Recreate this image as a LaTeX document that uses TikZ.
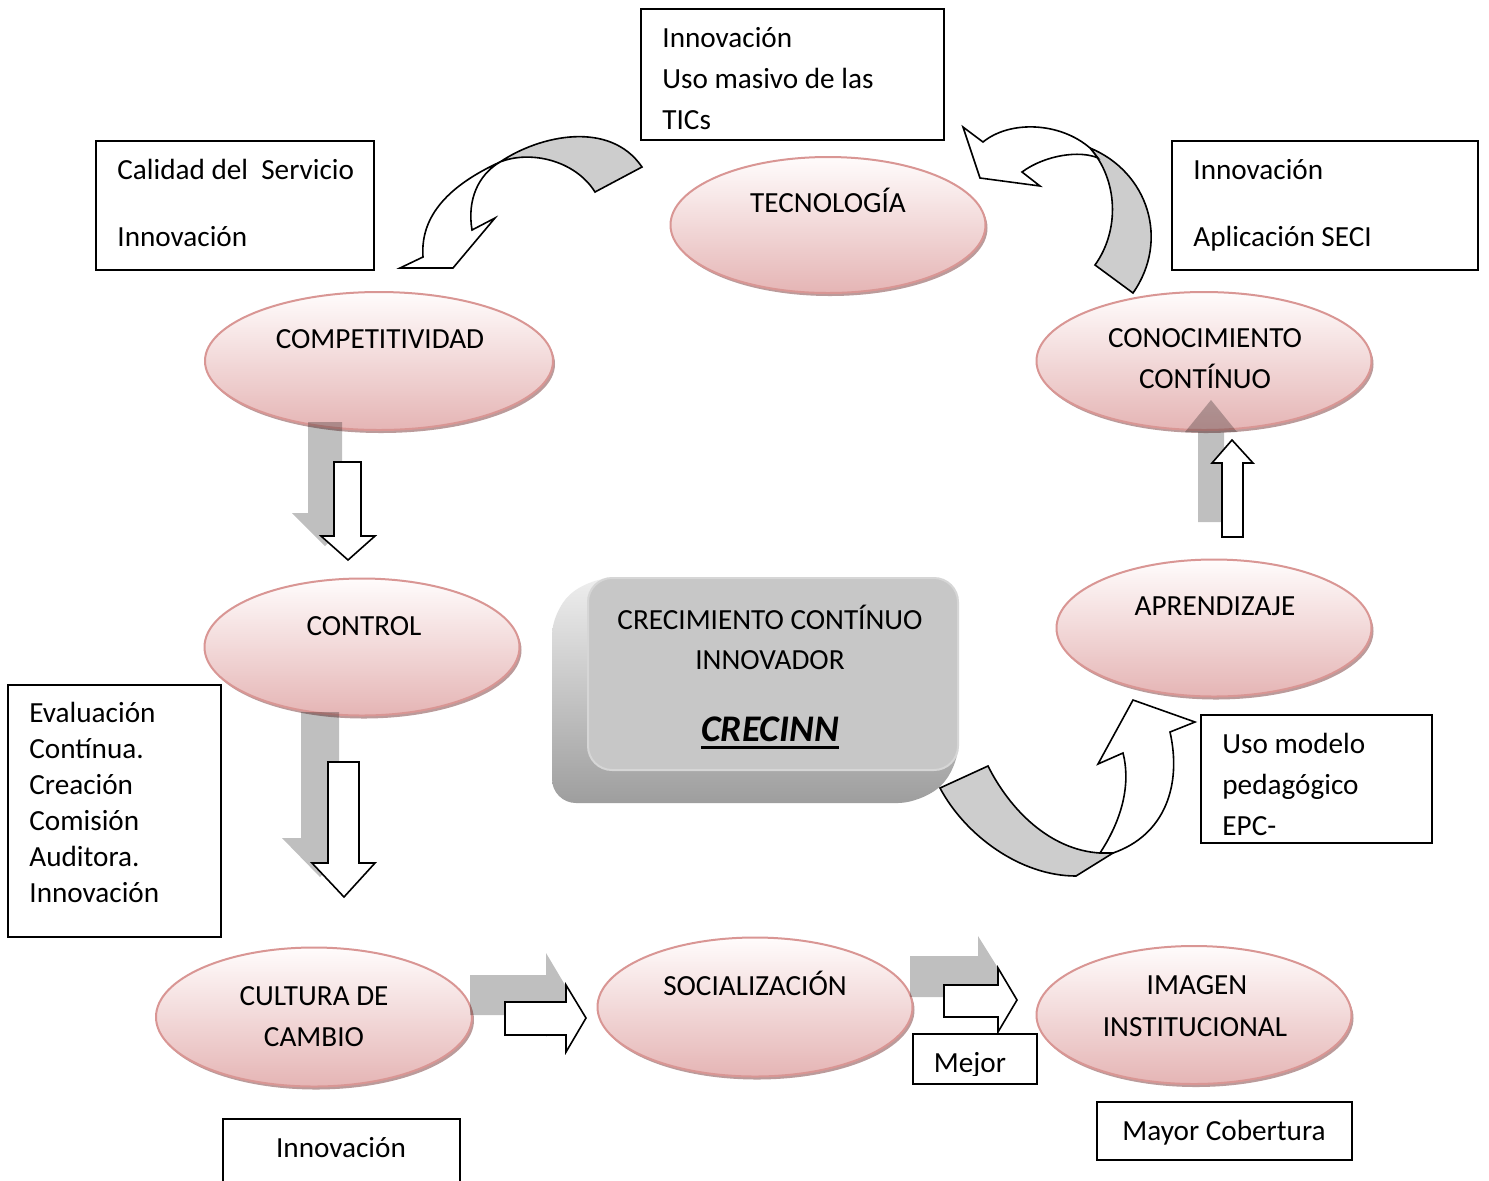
\documentclass[tikz,border=0pt]{standalone}
\usepackage{fontspec}
\setmainfont{Carlito}
\usetikzlibrary{shapes.geometric,shadows}

\definecolor{ellline}{RGB}{217,150,148}
\definecolor{elltop}{RGB}{255,252,252}
\definecolor{ellbot}{RGB}{229,181,181}
\definecolor{ellshadow}{RGB}{170,130,130}
\definecolor{bandgray}{RGB}{205,205,205}
\definecolor{faceA}{RGB}{199,199,199}
\definecolor{faceEdge}{RGB}{214,214,214}
\definecolor{sideTop}{RGB}{238,238,238}
\definecolor{sideBot}{RGB}{158,158,158}

\begin{document}
\begin{tikzpicture}[x=0.5pt,y=-0.5pt,
  ell/.style={ellipse, inner sep=0pt, draw=ellline, line width=1pt,
    top color=elltop, bottom color=ellbot,
    drop shadow={shadow xshift=1pt, shadow yshift=-1.5pt, fill=ellshadow, opacity=0.8}},
  lbl/.style={inner sep=0pt, anchor=base, font=\fontsize{14.6pt}{18pt}\selectfont},
  lbll/.style={lbl, anchor=base west},
  tbox/.style={draw=black, line width=0.9pt, inner sep=0pt, fill=white},
  shadearrow/.style={fill=black, fill opacity=0.25, draw=none},
  blockarrow/.style={fill=white, draw=black, line width=0.8pt, line join=miter},
  band/.style={fill=bandgray, draw=black, line width=0.8pt, line join=miter},
]
\fill[white] (0,0) rectangle (1489,1180);
\useasboundingbox (0,0) rectangle (1489,1180);

% ---------- the eight stages ----------
\node[ell, minimum width=157.5pt, minimum height=68pt]   (tec)  at (828,225)  {};
\node[ell, minimum width=174pt,   minimum height=69pt]   (comp) at (379,361)  {};
\node[ell, minimum width=167.5pt, minimum height=69pt]   (cono) at (1204,361) {};
\node[ell, minimum width=157.5pt, minimum height=68.5pt] (ctrl) at (362,647)  {};
\node[ell, minimum width=157.5pt, minimum height=68.5pt] (apr)  at (1214,628) {};
\node[ell, minimum width=158pt,   minimum height=69.5pt] (cult) at (314,1017) {};
\node[ell, minimum width=157.5pt, minimum height=69.5pt] (soc)  at (755,1007) {};
\node[ell, minimum width=157.5pt, minimum height=69pt]   (img)  at (1194,1015) {};

\node[lbl] (tecT)   at (828,212)  {TECNOLOGÍA};
\node[lbl] (compT)  at (380,348)  {COMPETITIVIDAD};
\node[lbl] (conoT1) at (1205,347) {CONOCIMIENTO};
\node[lbl] (conoT2) at (1205,388) {CONTÍNUO};
\node[lbl] (ctrlT)  at (364,635)  {CONTROL};
\node[lbl] (aprT)   at (1215,615) {APRENDIZAJE};
\node[lbl] (cultT1) at (314,1005) {CULTURA DE};
\node[lbl] (cultT2) at (314,1046) {CAMBIO};
\node[lbl] (socT)   at (755,995)  {SOCIALIZACIÓN};
\node[lbl] (imgT1)  at (1197,994) {IMAGEN};
\node[lbl] (imgT2)  at (1195,1036) {INSTITUCIONAL};

% ---------- straight block arrows with their soft shadows ----------
% competitividad -> control
\path[shadearrow] (308,422) -- (342,422) -- (342,513) -- (358,513) -- (325,546) -- (292,513) -- (308,513) -- cycle;
\path[blockarrow] (334,462) -- (361,462) -- (361,536) -- (375,536) -- (348,560) -- (321,536) -- (334,536) -- cycle;
% control -> cultura de cambio
\path[shadearrow] (301,712) -- (339,712) -- (339,838) -- (358,838) -- (320,877) -- (282,838) -- (301,838) -- cycle;
\path[blockarrow] (328,762) -- (359,762) -- (359,863) -- (375,863) -- (344,897) -- (312,863) -- (328,863) -- cycle;
% aprendizaje -> conocimiento
\path[shadearrow] (1198,522) -- (1198,432) -- (1185,432) -- (1211,400) -- (1237,432) -- (1224,432) -- (1224,522) -- cycle;
\path[blockarrow] (1222,537) -- (1222,463) -- (1212,463) -- (1232,440) -- (1253,463) -- (1243,463) -- (1243,537) -- cycle;
% cultura -> socializacion
\path[shadearrow] (470,975) -- (546,975) -- (546,953) -- (571,995) -- (546,1037) -- (546,1015) -- (470,1015) -- cycle;
\path[blockarrow] (505,1002) -- (566,1002) -- (566,985) -- (586,1018) -- (566,1052) -- (566,1035) -- (505,1035) -- cycle;
% socializacion -> imagen
\path[shadearrow] (910,956) -- (978,956) -- (978,936) -- (1003,976) -- (978,1017) -- (978,997) -- (910,997) -- cycle;
\path[blockarrow] (944,985) -- (998,985) -- (998,968) -- (1017,1000) -- (998,1032) -- (998,1017) -- (944,1017) -- cycle;

% ---------- central raised block ----------
\path[rounded corners=12pt, top color=sideTop, bottom color=sideBot]
  (588,578) -- (958,578) -- (958,770) -- (922,803) -- (552,803) -- (552,611) -- cycle;
\node[draw=faceEdge, line width=1pt, fill=faceA, rounded corners=12pt, inner sep=0pt,
      minimum width=185pt, minimum height=96pt] (core) at (773,674) {};
\node[lbl] (coreT1) at (770,629) {CRECIMIENTO CONTÍNUO};
\node[lbl] (coreT2) at (770,669) {INNOVADOR};
\node[lbl, font=\fontsize{18.8pt}{22pt}\selectfont\bfseries\itshape] (crecinn) at (770,741) {CRECINN};
\draw[line width=1.4pt] ([yshift=-3.3pt]crecinn.base west) -- ([yshift=-3.3pt]crecinn.base east);

% ---------- text boxes ----------
\node[tbox, minimum width=151.5pt, minimum height=65.5pt] (bTic) at (792.5,74.5) {};
\node[lbll] at (662,47)  {Innovación};
\node[lbll] at (662,88)  {Uso masivo de las};
\node[lbll] at (662,129) {TICs};

\node[tbox, minimum width=139pt, minimum height=64.5pt] (bCal) at (235,205.5) {};
\node[lbll] at (117,179) {Calidad del\ \ Servicio};
\node[lbll] at (117,246) {Innovación};

\node[tbox, minimum width=153pt, minimum height=64.5pt] (bSeci) at (1325,205.5) {};
\node[lbll] at (1193,179) {Innovación};
\node[lbll] at (1193,246) {Aplicación SECI};

\node[tbox, minimum width=106.5pt, minimum height=126pt] (bEval) at (114.5,811) {};
\node[lbll] at (29,722) {Evaluación};
\node[lbll] at (29,758) {Contínua.};
\node[lbll] at (29,794) {Creación};
\node[lbll] at (29,830) {Comisión};
\node[lbll] at (29,866) {Auditora.};
\node[lbll] at (29,902) {Innovación};

\node[tbox, minimum width=115.5pt, minimum height=64pt] (bEpc) at (1316.5,779) {};
\node[lbll] at (1222,753) {Uso modelo};
\node[lbll] at (1222,794) {pedagógico};
\node[lbll] at (1222,835) {EPC-};

\node[tbox, minimum width=62pt, minimum height=25pt] (bMej) at (975,1059) {};
\begin{scope}
  \clip (913,1034) rectangle (1037,1075);
  \node[lbl] (mejT) at (970,1072) {Mejor};
\end{scope}

\node[tbox, minimum width=127.5pt, minimum height=29pt] (bCob) at (1224.5,1131) {};
\node[lbl] (cobT) at (1224,1140) {Mayor Cobertura};

\draw[line width=0.9pt] (223,1182) -- (223,1119) -- (460,1119) -- (460,1182);
\node[lbl] (innT) at (341,1157) {Innovación};

% ---------- curved ribbon arrows ----------
% tecnologia -> competitividad
\path[band] (500,162) .. controls (540,135) and (610,120) .. (642,167) -- (595,192)
  .. controls (575,160) and (530,150) .. (500,162) -- cycle;
\path[blockarrow] (500,162) .. controls (450,185) and (420,215) .. (423,257) -- (400,268)
  -- (453,268) -- (495,218) -- (472,230) .. controls (467,200) and (478,175) .. (500,162) -- cycle;
% conocimiento -> tecnologia
\path[band] (1090,148) .. controls (1148,172) and (1170,240) .. (1133,293) -- (1095,265)
  .. controls (1120,230) and (1118,180) .. (1090,148) -- cycle;
\path[blockarrow] (1090,148) .. controls (1060,122) and (1010,120) .. (983,142) -- (963,127)
  -- (980,178) -- (1040,186) -- (1022,172) .. controls (1045,155) and (1080,150) .. (1098,158) -- cycle;
% crecinn -> aprendizaje
\path[band] (940,788) .. controls (965,835) and (1020,876) .. (1076,876) -- (1113,853) -- (1100,853)
  .. controls (1050,850) and (1010,810) .. (988,766) -- cycle;
\path[blockarrow] (1100,853) .. controls (1125,815) and (1130,780) .. (1123,753) -- (1098,764)
  -- (1133,700) -- (1195,722) -- (1170,732) .. controls (1182,785) and (1165,835) .. (1113,853) -- cycle;
\end{tikzpicture}
\end{document}
